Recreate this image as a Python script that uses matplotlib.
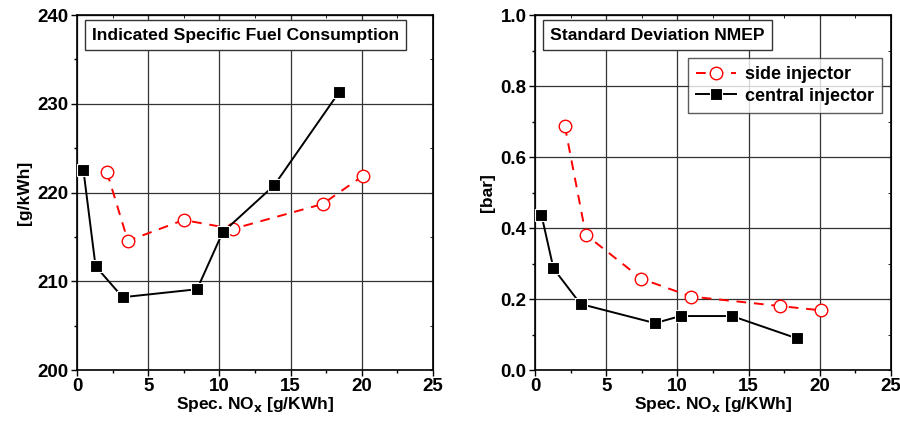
import matplotlib.pyplot as plt
from matplotlib.ticker import MultipleLocator

plt.rcParams['font.family'] = ['Liberation Sans', 'DejaVu Sans']
plt.rcParams['font.weight'] = 'bold'

# spec. NOx for both injector setups [g/kWh]
side_nox = [2.1, 3.57, 7.48, 10.95, 17.24, 20.1]
central_nox = [0.45, 1.3, 3.2, 8.43, 10.22, 13.84, 18.4]

# indicated specific fuel consumption [g/kWh]
side_isfc = [222.3, 214.55, 216.9, 215.9, 218.7, 221.9]
central_isfc = [222.5, 211.7, 208.2, 209.1, 215.5, 220.8, 231.3]

# standard deviation of NMEP [bar]
side_std = [0.687, 0.381, 0.257, 0.207, 0.180, 0.168]
central_std = [0.438, 0.286, 0.186, 0.132, 0.152, 0.152, 0.089]

fig = plt.figure(figsize=(9, 4.25), dpi=100)
ax1 = fig.add_axes([0.0856, 0.1294, 0.3956, 0.8353])
ax2 = fig.add_axes([0.5944, 0.1294, 0.3956, 0.8353])


def style_axes(ax, ymin, ymax, ymaj, ymin_step, title):
    ax.set_xlim(0, 25)
    ax.set_ylim(ymin, ymax)
    ax.xaxis.set_major_locator(MultipleLocator(5))
    ax.xaxis.set_minor_locator(MultipleLocator(2.5))
    ax.yaxis.set_major_locator(MultipleLocator(ymaj))
    ax.yaxis.set_minor_locator(MultipleLocator(ymin_step))
    ax.grid(True, which='major', color='#333333', lw=0.9, zorder=0)
    ax.tick_params(which='major', direction='out', length=4, width=1,
                   labelsize=13.5, pad=2)
    ax.tick_params(which='minor', direction='out', length=2.5, width=1)
    for s in ax.spines.values():
        s.set_linewidth(1.2)
    # inward ticks on the top and right frame
    top = ax.secondary_xaxis('top')
    top.xaxis.set_major_locator(MultipleLocator(5))
    top.xaxis.set_minor_locator(MultipleLocator(2.5))
    top.tick_params(which='both', direction='in', length=2.5, labeltop=False)
    right = ax.secondary_yaxis('right')
    right.yaxis.set_major_locator(MultipleLocator(ymaj))
    right.yaxis.set_minor_locator(MultipleLocator(ymin_step))
    right.tick_params(which='both', direction='in', length=2.5, labelright=False)
    ax.set_xlabel('Spec. NO$_\\mathbf{x}$ [g/KWh]', fontsize=12.5,
                  fontweight='bold', labelpad=0)
    ax.text(0.042, 0.943, title, transform=ax.transAxes, fontsize=12.6,
            fontweight='bold', va='center', ha='left', zorder=6,
            bbox=dict(boxstyle='square,pad=0.42', fc='white', ec='#333333', lw=1))


style_axes(ax1, 200, 240, 10, 5, 'Indicated Specific Fuel Consumption')
style_axes(ax2, 0.0, 1.0, 0.2, 0.1, 'Standard Deviation NMEP')
ax2.yaxis.set_major_formatter(plt.FormatStrFormatter('%.1f'))

ax1.set_ylabel('[g/kWh]', fontsize=12.5, fontweight='bold', labelpad=4)
ax2.set_ylabel('[bar]', fontsize=12.5, fontweight='bold', labelpad=4)

for ax, ys, yc in [(ax1, side_isfc, central_isfc), (ax2, side_std, central_std)]:
    ax.plot(side_nox, ys, color='red', ls=(0, (5, 4)), lw=1.4, marker='o',
            ms=9, mfc='white', mec='red', mew=1, label='side injector', zorder=4)
    ax.plot(central_nox, yc, color='black', lw=1.4, marker='s', ms=8.5,
            mfc='black', mec='white', mew=0.8, label='central injector', zorder=5)

leg = ax2.legend(loc='upper right', bbox_to_anchor=(0.975, 0.879), fontsize=13,
                 frameon=True, fancybox=False, edgecolor='#333333',
                 borderaxespad=0, handlelength=2.2, handletextpad=0.5,
                 borderpad=0.45, labelspacing=0.25)
leg.get_frame().set_linewidth(1)
leg.set_zorder(7)

fig.savefig('out.png', dpi=100)
